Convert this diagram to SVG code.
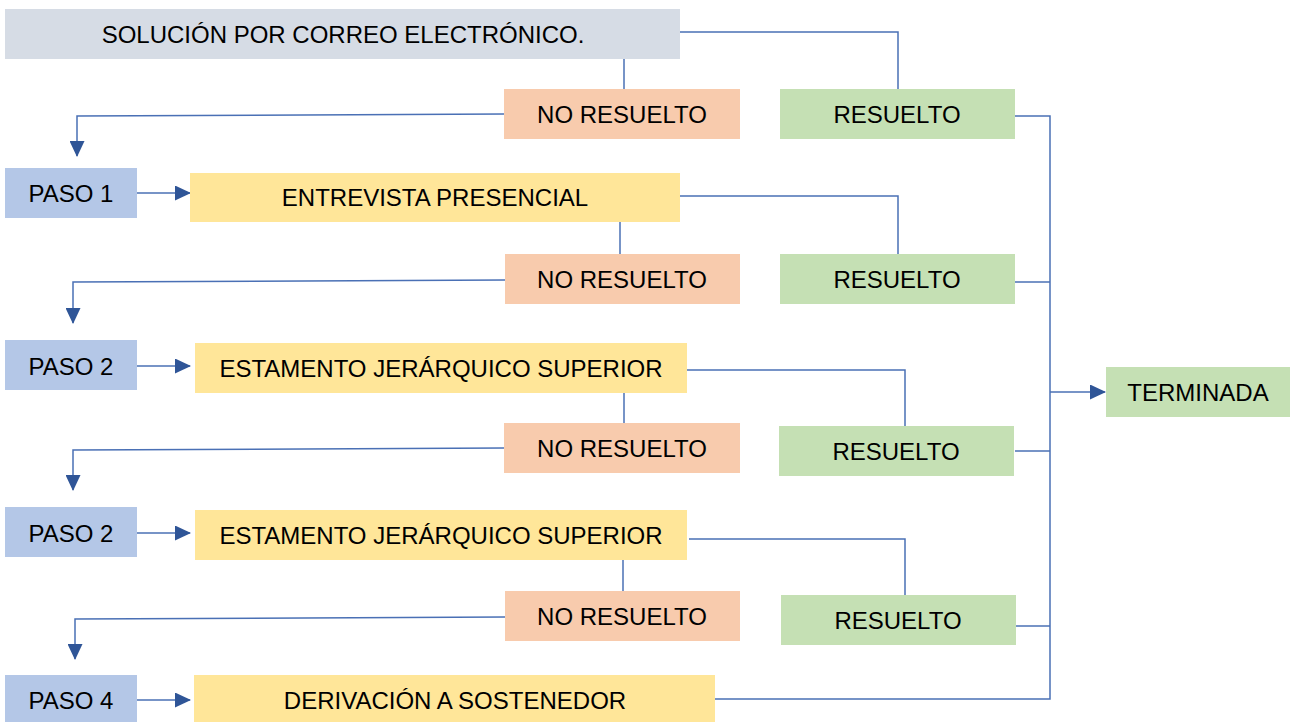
<svg xmlns="http://www.w3.org/2000/svg" width="1292" height="722" viewBox="0 0 1292 722">
<defs>
<marker id="ah" markerWidth="16" markerHeight="15" refX="15" refY="7.5" orient="auto" markerUnits="userSpaceOnUse">
<path d="M0,0 L16,7.5 L0,15 Z" fill="#2f5597"/>
</marker>
<style>
.t{font-family:"Liberation Sans",Arial,sans-serif;font-size:24px;fill:#000;text-anchor:middle;dominant-baseline:central}
.gray{fill:#d6dce5}.red{fill:#f8cbad}.green{fill:#c5e0b4}.blue{fill:#b4c7e7}.yel{fill:#ffe699}
.c{fill:none;stroke:#4a70b5;stroke-width:1.5}
.ca{fill:none;stroke:#4a70b5;stroke-width:1.5;marker-end:url(#ah)}
</style>
</defs>
<rect width="1292" height="722" fill="#fff"/>
<g id="connectors">
<polyline class="c" points="680,32 898,32 898,89"/>
<line class="c" x1="624" y1="59" x2="624" y2="89"/>
<polyline class="ca" points="504,114 77,116 77,156"/>
<line class="ca" x1="137" y1="193" x2="190" y2="193"/>
<polyline class="c" points="680,196 898,196 898,254"/>
<line class="c" x1="620" y1="222" x2="620" y2="254"/>
<polyline class="ca" points="505,280 73,282 73,323"/>
<line class="ca" x1="137" y1="366" x2="190" y2="366"/>
<polyline class="c" points="687,370 905,370 905,426"/>
<line class="c" x1="624" y1="393" x2="624" y2="423"/>
<polyline class="ca" points="504,448 73,450 73,490"/>
<line class="ca" x1="137" y1="533" x2="190" y2="533"/>
<polyline class="c" points="689,539 905,539 905,595"/>
<line class="c" x1="623" y1="560" x2="623" y2="591"/>
<polyline class="ca" points="505,617 75,619 75,659"/>
<line class="ca" x1="137" y1="700" x2="190" y2="700"/>
<polyline class="c" points="715,699 1050,699 1050,116 1015,116"/>
<line class="c" x1="1015" y1="282" x2="1050" y2="282"/>
<line class="c" x1="1015" y1="451" x2="1050" y2="451"/>
<line class="c" x1="1016" y1="626" x2="1050" y2="626"/>
<line class="ca" x1="1050" y1="392" x2="1105" y2="392"/>
</g>
<g id="n_correo"><rect class="gray" x="5" y="9" width="675" height="50"/><text class="t" x="343" y="34">SOLUCIÓN POR CORREO ELECTRÓNICO.</text></g>
<g id="n_nr1"><rect class="red" x="504" y="89" width="236" height="50"/><text class="t" x="622" y="114">NO RESUELTO</text></g>
<g id="n_r1"><rect class="green" x="780" y="89" width="235" height="50"/><text class="t" x="897" y="114">RESUELTO</text></g>
<g id="n_paso1"><rect class="blue" x="5" y="168" width="132" height="50"/><text class="t" x="71" y="193">PASO 1</text></g>
<g id="n_entrevista"><rect class="yel" x="190" y="173" width="490" height="49"/><text class="t" x="435" y="197">ENTREVISTA PRESENCIAL</text></g>
<g id="n_nr2"><rect class="red" x="505" y="254" width="235" height="50"/><text class="t" x="622" y="279">NO RESUELTO</text></g>
<g id="n_r2"><rect class="green" x="780" y="254" width="235" height="50"/><text class="t" x="897" y="279">RESUELTO</text></g>
<g id="n_paso2a"><rect class="blue" x="5" y="340" width="132" height="50"/><text class="t" x="71" y="366">PASO 2</text></g>
<g id="n_estamento1"><rect class="yel" x="195" y="343" width="492" height="50"/><text class="t" x="441" y="368">ESTAMENTO JERÁRQUICO SUPERIOR</text></g>
<g id="n_nr3"><rect class="red" x="504" y="423" width="236" height="50"/><text class="t" x="622" y="448">NO RESUELTO</text></g>
<g id="n_r3"><rect class="green" x="779" y="426" width="235" height="50"/><text class="t" x="896" y="451">RESUELTO</text></g>
<g id="n_paso2b"><rect class="blue" x="5" y="507" width="132" height="50"/><text class="t" x="71" y="533">PASO 2</text></g>
<g id="n_estamento2"><rect class="yel" x="195" y="510" width="492" height="50"/><text class="t" x="441" y="535">ESTAMENTO JERÁRQUICO SUPERIOR</text></g>
<g id="n_nr4"><rect class="red" x="505" y="591" width="235" height="50"/><text class="t" x="622" y="616">NO RESUELTO</text></g>
<g id="n_r4"><rect class="green" x="781" y="595" width="235" height="50"/><text class="t" x="898" y="620">RESUELTO</text></g>
<g id="n_paso4"><rect class="blue" x="5" y="675" width="132" height="47"/><text class="t" x="71" y="700">PASO 4</text></g>
<g id="n_derivacion"><rect class="yel" x="194" y="675" width="521" height="47"/><text class="t" x="455" y="700">DERIVACIÓN A SOSTENEDOR</text></g>
<g id="n_terminada"><rect class="green" x="1106" y="367" width="184" height="50"/><text class="t" x="1198" y="392">TERMINADA</text></g>
</svg>
